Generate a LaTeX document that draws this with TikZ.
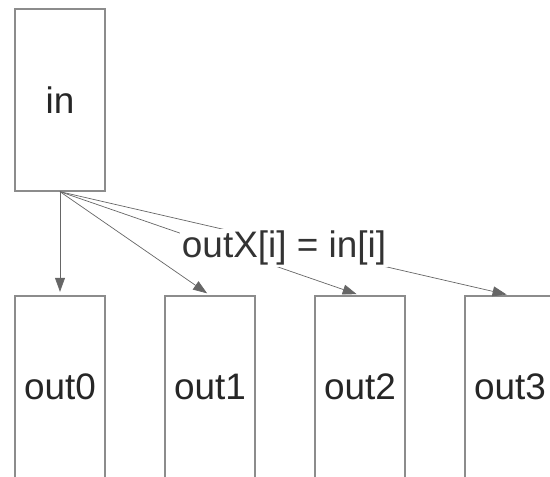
\documentclass[tikz,border=0pt]{standalone}
\usepackage{fontspec}
\setmainfont{Liberation Sans}
\usetikzlibrary{arrows.meta, positioning}

\tikzset{
  box/.style={draw=black!45, line width=0.8pt, minimum width=1.8cm, minimum height=3.64cm,
    inner sep=0pt, text=black!85, font=\fontsize{21}{25}\selectfont},
  link/.style={draw=black!60, line width=0.4pt, shorten >=2pt,
    -{Triangle[length=0.28cm, width=0.2cm]}}
}

\begin{document}
\begin{tikzpicture}[x=0.02cm, y=-0.02cm]
      \useasboundingbox (0,0) rectangle (550,476);

      \node[box] (in) at (60,100) {in};

      \node[box] (out0) at (60,387) {out0};
      \node[box] (out1) at (210,387) {out1};
      \node[box] (out2) at (360,387) {out2};
      \node[box] (out3) at (510,387) {out3};

      \foreach \k in {0,...,3}
        \draw[link] (in.south) -- (out\k.north);

      % label sits on top of the links
      \node[fill=white, inner sep=1pt, text=black!80, font=\fontsize{21}{25}\selectfont] (rule) at (284,248) {outX[i] = in[i]};
    \end{tikzpicture}
\end{document}
